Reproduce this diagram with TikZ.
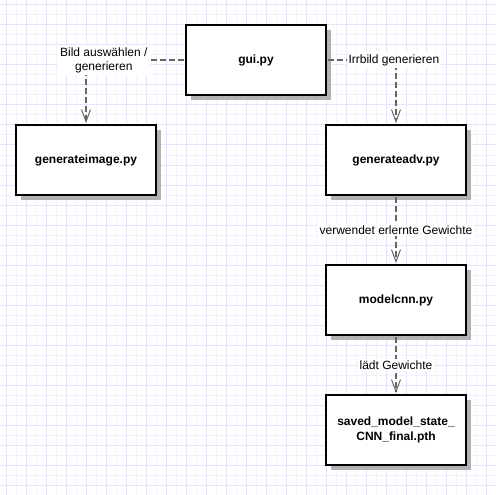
\documentclass[tikz,border=0pt]{standalone}
\usepackage{fontspec}
\setmainfont{Liberation Sans}
\usetikzlibrary{arrows.meta, shadows}

\definecolor{gridmajor}{RGB}{228,228,250}
\definecolor{gridminor}{RGB}{242,242,252}
\definecolor{depgray}{RGB}{102,102,102}

\begin{document}
\begin{tikzpicture}[x=1pt, y=-1pt,
        box/.style={draw=black, line width=2pt, fill=white, minimum width=140pt, minimum height=70pt,
            inner sep=0pt, align=center, font=\fontsize{12}{14.5}\selectfont\bfseries,
            drop shadow={shadow xshift=5pt, shadow yshift=-5pt, opacity=1, fill=black!30}},
        dep/.style={draw=depgray, line width=1.5pt, dash pattern=on 6pt off 3pt, shorten <=1pt, shorten >=1pt,
            -{Straight Barb[length=12pt, width=9pt, line width=1pt]}},
        lbl/.style={fill=white, inner sep=2pt, align=center, font=\fontsize{12}{14}\selectfont}]
    \useasboundingbox (0,0) rectangle (496,495);
    \fill[white] (0,0) rectangle (496,495);

    % grid
    \foreach \gx in {16.5,36.5,...,496} \draw[gridminor, line width=1pt] (\gx,0) -- (\gx,495);
    \foreach \gy in {15,35,...,495} \draw[gridminor, line width=1pt] (0,\gy) -- (496,\gy);
    \foreach \gx in {6.5,26.5,...,496} \draw[gridmajor, line width=1pt] (\gx,0) -- (\gx,495);
    \foreach \gy in {5,25,...,495} \draw[gridmajor, line width=1pt] (0,\gy) -- (496,\gy);

    \node[box] (gui) at (256,60) {gui.py};
    \node[box] (genimg) at (86,160) {generateimage.py};
    \node[box] (genadv) at (396,160) {generateadv.py};
    \node[box] (modelcnn) at (396,300) {modelcnn.py};
    \node[box] (saved) at (396,430) {saved\_model\_state\_\\CNN\_final.pth};

    \draw[dep] (gui.west) -| node[lbl, pos=0.41] (lblimg) {Bild auswählen /\\generieren} (genimg.north);
    \draw[dep] (gui.east) -| node[lbl, pos=0.485] (lbladv) {Irrbild generieren} (genadv.north);
    \draw[dep] (genadv.south) -- node[lbl] (lblgew) {verwendet erlernte Gewichte} (modelcnn.north);
    \draw[dep] (modelcnn.south) -- node[lbl] (lbllaedt) {lädt Gewichte} (saved.north);

\end{tikzpicture}
\end{document}
